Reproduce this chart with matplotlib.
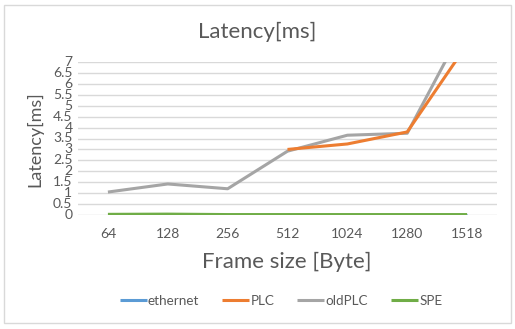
import matplotlib
matplotlib.use("Agg")
import matplotlib.pyplot as plt
import numpy as np
from matplotlib.patches import Rectangle

# chart data
frame_sizes = ["64", "128", "256", "512", "1024", "1280", "1518"]
ethernet = [0.01, 0.01, 0.01, 0.01, 0.01, 0.01, 0.01]
plc = [np.nan, np.nan, np.nan, 3.0, 3.25, 3.8, 7.8]
old_plc = [1.05, 1.42, 1.2, 2.92, 3.65, 3.74, 8.9]
spe = [0.03, 0.04, 0.02, 0.02, 0.02, 0.02, 0.02]
y_ticks = np.arange(0, 7.01, 0.5)

plt.rcParams["font.family"] = ["Lato", "DejaVu Sans"]
text_color = "#595959"

fig = plt.figure(figsize=(5.15, 3.29), dpi=100)
fig.patches.append(Rectangle((0.008, 0.018), 0.984, 0.967, transform=fig.transFigure,
                             fill=False, edgecolor="#D9D9D9", linewidth=1))

ax = fig.add_axes([78 / 515, 1 - 215 / 329, (497 - 78) / 515, (215 - 62) / 329])
x = np.arange(len(frame_sizes))

series = [
    ("ethernet", ethernet, "#5B9BD5"),
    ("PLC", plc, "#ED7D31"),
    ("oldPLC", old_plc, "#A5A5A5"),
    ("SPE", spe, "#70AD47"),
]
order = {"ethernet": 1, "PLC": 3, "oldPLC": 2, "SPE": 4}
for name, vals, color in series:
    ax.plot(x, vals, color=color, linewidth=2.2, label=name,
            solid_capstyle="butt", zorder=order[name] + 2)

ax.set_xlim(-0.5, len(frame_sizes) - 0.5)
ax.set_ylim(0, 7)
ax.set_xticks(x)
ax.set_xticklabels(frame_sizes)
ax.set_yticks(y_ticks)
ax.set_yticklabels([f"{v:g}" for v in y_ticks])
ax.grid(axis="y", color="#D9D9D9", linewidth=1)
ax.set_axisbelow(True)
for s in ax.spines.values():
    s.set_visible(False)
ax.tick_params(axis="both", length=0, colors=text_color, labelsize=10)
ax.tick_params(axis="x", pad=9)
ax.tick_params(axis="y", pad=4)
for lbl in ax.get_yticklabels():
    lbl.set_verticalalignment("center")

fig.text(0.5, 1 - 32 / 329, "Latency[ms]", ha="center", va="center",
         fontsize=16, color=text_color)
fig.text(287 / 515, 1 - 262 / 329, "Frame size [Byte]", ha="center", va="center",
         fontsize=16, color=text_color)
fig.text(35 / 515, 1 - 139 / 329, "Latency[ms]", ha="center", va="center",
         rotation=90, fontsize=13, color=text_color)

handles, labels = ax.get_legend_handles_labels()
fig.legend(handles, labels, loc="center", bbox_to_anchor=(281 / 515, 1 - 301 / 329),
           ncol=4, frameon=False, fontsize=9.7, labelcolor=text_color,
           handlelength=2.0, handletextpad=0.1, columnspacing=1.7)

fig.savefig("out.png", dpi=100)
